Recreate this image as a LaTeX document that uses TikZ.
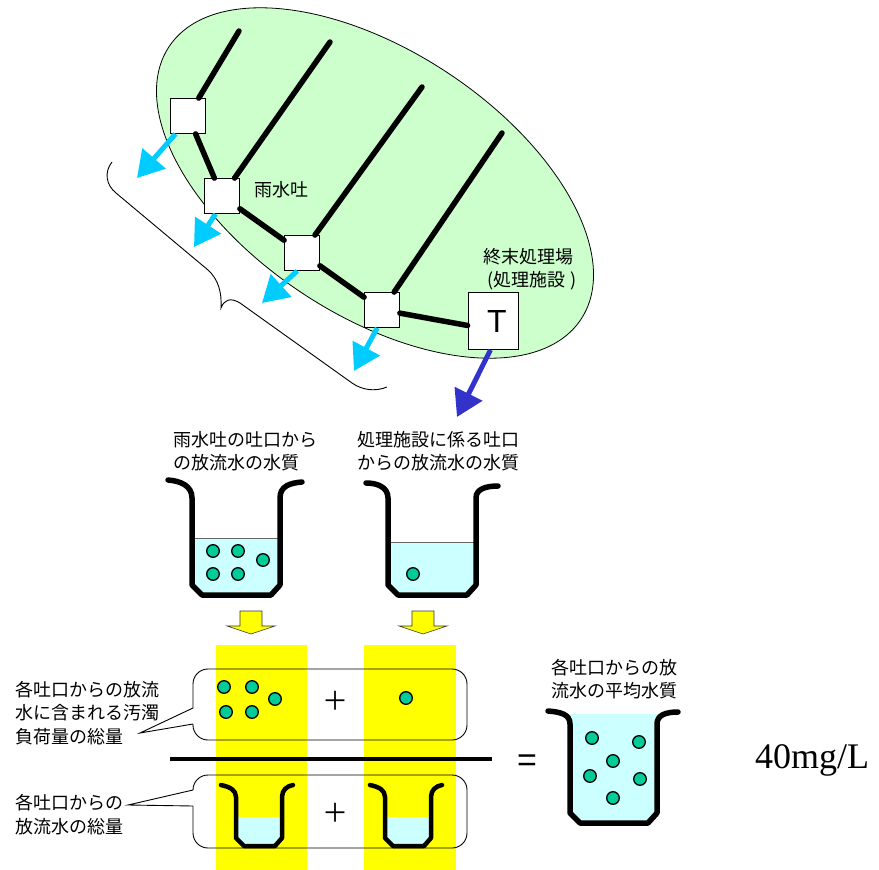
\documentclass[tikz,border=0pt]{standalone}
\usepackage{fontspec}
\setmainfont{Liberation Serif}
\newfontfamily\jpfont{Noto Sans CJK JP}
\newfontfamily\arialfont{Liberation Sans}
\usetikzlibrary{arrows.meta}
\definecolor{landgreen}{HTML}{CCFFCC}
\definecolor{outcyan}{HTML}{00CCFF}
\definecolor{outblue}{HTML}{3333CC}
\definecolor{wat}{HTML}{CCFFFF}
\definecolor{pol}{HTML}{00CC99}
\definecolor{yel}{HTML}{FFFF00}
\newcommand\pdot[1]{\filldraw[poll] #1 circle[radius=6.3pt];}
\begin{document}
\begin{tikzpicture}[x=1pt,y=-1pt,
  pipe/.style={line width=5.5pt, line cap=round},
  outletbox/.style={draw, fill=white, line width=0.8pt, minimum width=35pt, minimum height=35pt, inner sep=0pt},
  cyanarr/.style={draw=outcyan, fill=outcyan, line width=5pt, -{Triangle[length=26pt,width=30pt]}},
  bluearr/.style={draw=outblue, fill=outblue, line width=5pt, -{Triangle[length=26pt,width=30pt]}},
  beaker/.style={line width=5.5pt, line join=round, line cap=round},
  wline/.style={draw=black!60, line width=0.6pt},
  poll/.style={fill=pol, draw=black, line width=1.3pt},
  jp/.style={font=\jpfont\fontsize{18}{23}\selectfont, inner sep=0pt},
  yarrow/.style={fill=yel, draw=black!80, line width=0.6pt},
  band/.style={fill=yel},
  callout/.style={line width=0.9pt, rounded corners=15pt},
  brace/.style={line width=0.9pt}
]
\useasboundingbox (0,0) rectangle (879,870);

% service area
\draw[fill=landgreen, line width=0.8pt, rotate around={-33.5:(375,183)}] (375,183) ellipse [x radius=247pt, y radius=132pt];

% outlets and treatment plant
\node[outletbox] (b1) at (188,116) {};
\node[outletbox] (b2) at (222,196) {};
\node[outletbox] (b3) at (302,253) {};
\node[outletbox] (b4) at (382,310) {};
\node[outletbox, minimum width=50pt, minimum height=57pt, font=\arialfont\fontsize{32}{32}\selectfont] (T) at (493,321) {\hspace*{8pt}T};

\coordinate (r1) at (239,31);
\coordinate (r2) at (330,42);
\coordinate (r3) at (422,87);
\coordinate (r4) at (502,133);
\draw[pipe] (r1) -- (b1);
\draw[pipe] (r2) -- (b2);
\draw[pipe] (r3) -- (b3);
\draw[pipe] (r4) -- (b4);
\draw[pipe] (b1) -- (b2);
\draw[pipe] (b2) -- (b3);
\draw[pipe] (b3) -- (b4);
\draw[pipe] (b4.350) -- (T.190);

% outflows
\coordinate (o1) at (137,178);
\coordinate (o2) at (194,247);
\coordinate (o3) at (262,303);
\coordinate (o4) at (354,371);
\coordinate (oT) at (457,417);
\draw[cyanarr] (b1.235) -- (o1);
\draw[cyanarr] (b2.250) -- (o2);
\draw[cyanarr] (b3.255) -- (o3);
\draw[cyanarr] (b4.255) -- (o4);
\draw[bluearr] (T.265) -- (oT);

% brace
\draw[brace] (112,162) .. controls (104,172) and (106,185) .. (116,193) -- (208,270)
  .. controls (218,279) and (222,292) .. (221,308)
  .. controls (224,300) and (230,297) .. (240,303) -- (352,383)
  .. controls (362,390) and (375,392) .. (387,387);

% labels top
\node[jp] (lblrain) at (281,190) {雨水吐};
\node[jp] (lblplant1) at (528,257) {終末処理場};
\node[jp] (lblplant2) at (532,281) {(処理施設 )};

\node[jp, anchor=west, align=left] (lblq1) at (173,451) {雨水吐の吐口から\\の放流水の水質};
\node[jp, anchor=west, align=left] (lblq2) at (357,451) {処理施設に係る吐口\\からの放流水の水質};

% beaker 1
\fill[wat] (192,538) -- (192,585) -- (202,595) -- (271,595) -- (280,585) -- (280,538) -- cycle;
\draw[wline] (192,538) -- (280,538);
\draw[beaker] (168,480) .. controls (181,481) and (192,486) .. (192,498) -- (192,585) -- (202,595) -- (271,595) -- (280,585) -- (280,498) .. controls (280,486) and (290,483) .. (302,482);
\pdot{(213,551)} \pdot{(238,551)} \pdot{(263,560)} \pdot{(213,574)} \pdot{(238,574)}

% beaker 2
\begin{scope}[xshift=196pt]
\fill[wat] (192,542) -- (192,585) -- (202,595) -- (271,595) -- (280,585) -- (280,542) -- cycle;
\draw[wline] (192,542) -- (280,542);
\draw[beaker] (170,483) .. controls (181,483) and (192,487) .. (192,498) -- (192,585) -- (202,595) -- (271,595) -- (280,585) -- (280,498) .. controls (280,489) and (290,486) .. (302,486);
\end{scope}
\pdot{(413,574)}

% yellow block arrows
\draw[yarrow] (240,611) -- (262,611) -- (262,626) -- (275,626) -- (251,634) -- (227,626) -- (240,626) -- cycle;
\draw[yarrow] (412,611) -- (434,611) -- (434,626) -- (447,626) -- (423,634) -- (399,626) -- (412,626) -- cycle;

% yellow bands
\fill[band] (216,645) rectangle (307,870);
\fill[band] (364,645) rectangle (456,870);

% divider
\draw[line width=4pt] (170,759) -- (492,759);

% callouts
\draw[callout] (193,708) -- (193,669) -- (467,669) -- (467,740) -- (193,740) -- (193,724);
\draw[line width=0.9pt, line join=miter] (193,708) -- (140,733) -- (193,724);
\draw[callout] (193,790) -- (193,775) -- (467,775) -- (467,848) -- (193,848) -- (193,806);
\draw[line width=0.9pt] (193,790) -- (128,805) -- (193,806);

% pollutant loads
\pdot{(224,687)} \pdot{(252,687)} \pdot{(275,699)} \pdot{(226,712)} \pdot{(252,712)}
\pdot{(406,698)}

% small beakers
\fill[wat] (236,817) -- (236,838) -- (244,846) -- (275,846) -- (282,838) -- (282,817) -- cycle;
\draw[beaker, line width=4.5pt] (221,785) .. controls (230,787) and (236,790) .. (236,797) -- (236,838) -- (244,846) -- (275,846) -- (282,838) -- (282,797) .. controls (282,790) and (287,786) .. (293,785);
\begin{scope}[xshift=149pt]
\fill[wat] (236,817) -- (236,838) -- (244,846) -- (275,846) -- (282,838) -- (282,817) -- cycle;
\draw[beaker, line width=4.5pt] (221,785) .. controls (230,787) and (236,790) .. (236,797) -- (236,838) -- (244,846) -- (275,846) -- (282,838) -- (282,797) .. controls (282,790) and (287,786) .. (293,785);
\end{scope}

\node[font=\jpfont\fontsize{26}{26}\selectfont, inner sep=0pt] (plus1) at (335,701) {＋};
\node[font=\jpfont\fontsize{26}{26}\selectfont, inner sep=0pt] (plus2) at (335,813) {＋};

% left texts
\node[jp, anchor=west, align=left, font=\jpfont\fontsize{18}{23.5}\selectfont] (lblload) at (15,713) {各吐口からの放流\\水に含まれる汚濁\\負荷量の総量};
\node[jp, anchor=west, align=left, font=\jpfont\fontsize{18}{24}\selectfont] (lblvol) at (15,815) {各吐口からの\\放流水の総量};

% equals and mixed beaker
\node[font=\arialfont\fontsize{34}{34}\selectfont, inner sep=0pt] (eq) at (527,763) {=};
\fill[wat] (563,714) -- (570,722) -- (570,813) -- (580,823) -- (648,823) -- (657,813) -- (657,722) -- (664,714) -- cycle;
\draw[beaker] (548,711) .. controls (560,712) and (570,714) .. (570,724) -- (570,813) -- (580,823) -- (648,823) -- (657,813) -- (657,724) .. controls (657,715) and (666,712) .. (678,712);
\pdot{(592,738)} \pdot{(639,742)} \pdot{(613,761)} \pdot{(590,776)} \pdot{(640,779)} \pdot{(613,798)}
\node[jp, align=center] (lblavg) at (614,679) {各吐口からの放\\流水の平均水質};

\node[font=\fontsize{36}{36}\selectfont, inner sep=0pt, anchor=base west] (val) at (755,768) {40mg/L};
\end{tikzpicture}
\end{document}
